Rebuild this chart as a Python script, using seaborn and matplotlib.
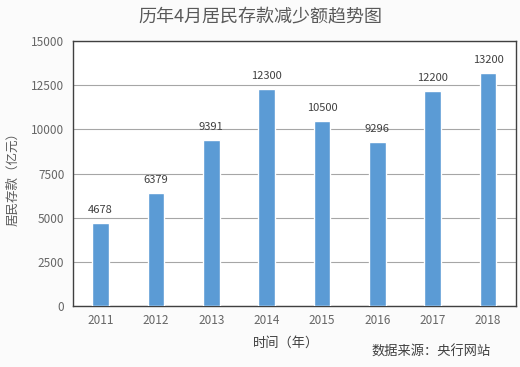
import pandas as pd
import matplotlib
matplotlib.use("Agg")
import matplotlib.pyplot as plt
import seaborn as sns

years = ['2011', '2012', '2013', '2014', '2015', '2016', '2017', '2018']
decrease = [4678, 6379, 9391, 12300, 10500, 9296, 12200, 13200]
labels = ['4678', '6379', '9391', '12300', '10500', '9296', '12200', '13200']
yticks = [0, 2500, 5000, 7500, 10000, 12500, 15000]

sns.set_style('white')
plt.rcParams['font.family'] = ['Noto Sans CJK SC', 'DejaVu Sans']

df = pd.DataFrame({'year': years, 'value': decrease})

fig = plt.figure(figsize=(5.2, 3.67), dpi=100)
ax = fig.add_axes([0.140, 0.166, 0.852, 0.722])

sns.barplot(data=df, x='year', y='value', color='#5B9BD5', saturation=1,
            width=0.3, ax=ax, zorder=3)

ax.set_ylim(0, 15000)
ax.set_yticks(yticks)
ax.set_yticklabels([str(t) for t in yticks])
ax.grid(axis='y', color='#a6a6a6', linewidth=0.8, zorder=0)
ax.set_axisbelow(True)
for s in ax.spines.values():
    s.set_color('#404040')
    s.set_linewidth(1.0)
ax.tick_params(axis='both', length=0, labelsize=8.5, colors='#666666', pad=6)
ax.set_xlabel('')
ax.set_ylabel('')

# value labels above each bar
for i, (v, t) in enumerate(zip(decrease, labels)):
    ax.text(i, v + 450, t, ha='center', va='bottom', fontsize=8, color='#404040')

fig.text(0.5, 0.955, '历年4月居民存款减少额趋势图', ha='center', va='center',
         fontsize=13, color='#595959')
fig.text(0.025, 0.52, '居民存款（亿元）', rotation=90, ha='center', va='center',
         fontsize=9, color='#595959')
fig.text(0.55, 0.065, '时间（年）', ha='center', va='center', fontsize=9.5, color='#404040')
fig.text(0.83, 0.04, '数据来源：央行网站', ha='center', va='center', fontsize=9.5,
         color='#404040')

fig.savefig('out.png', dpi=100, facecolor='#fbfbfb')
